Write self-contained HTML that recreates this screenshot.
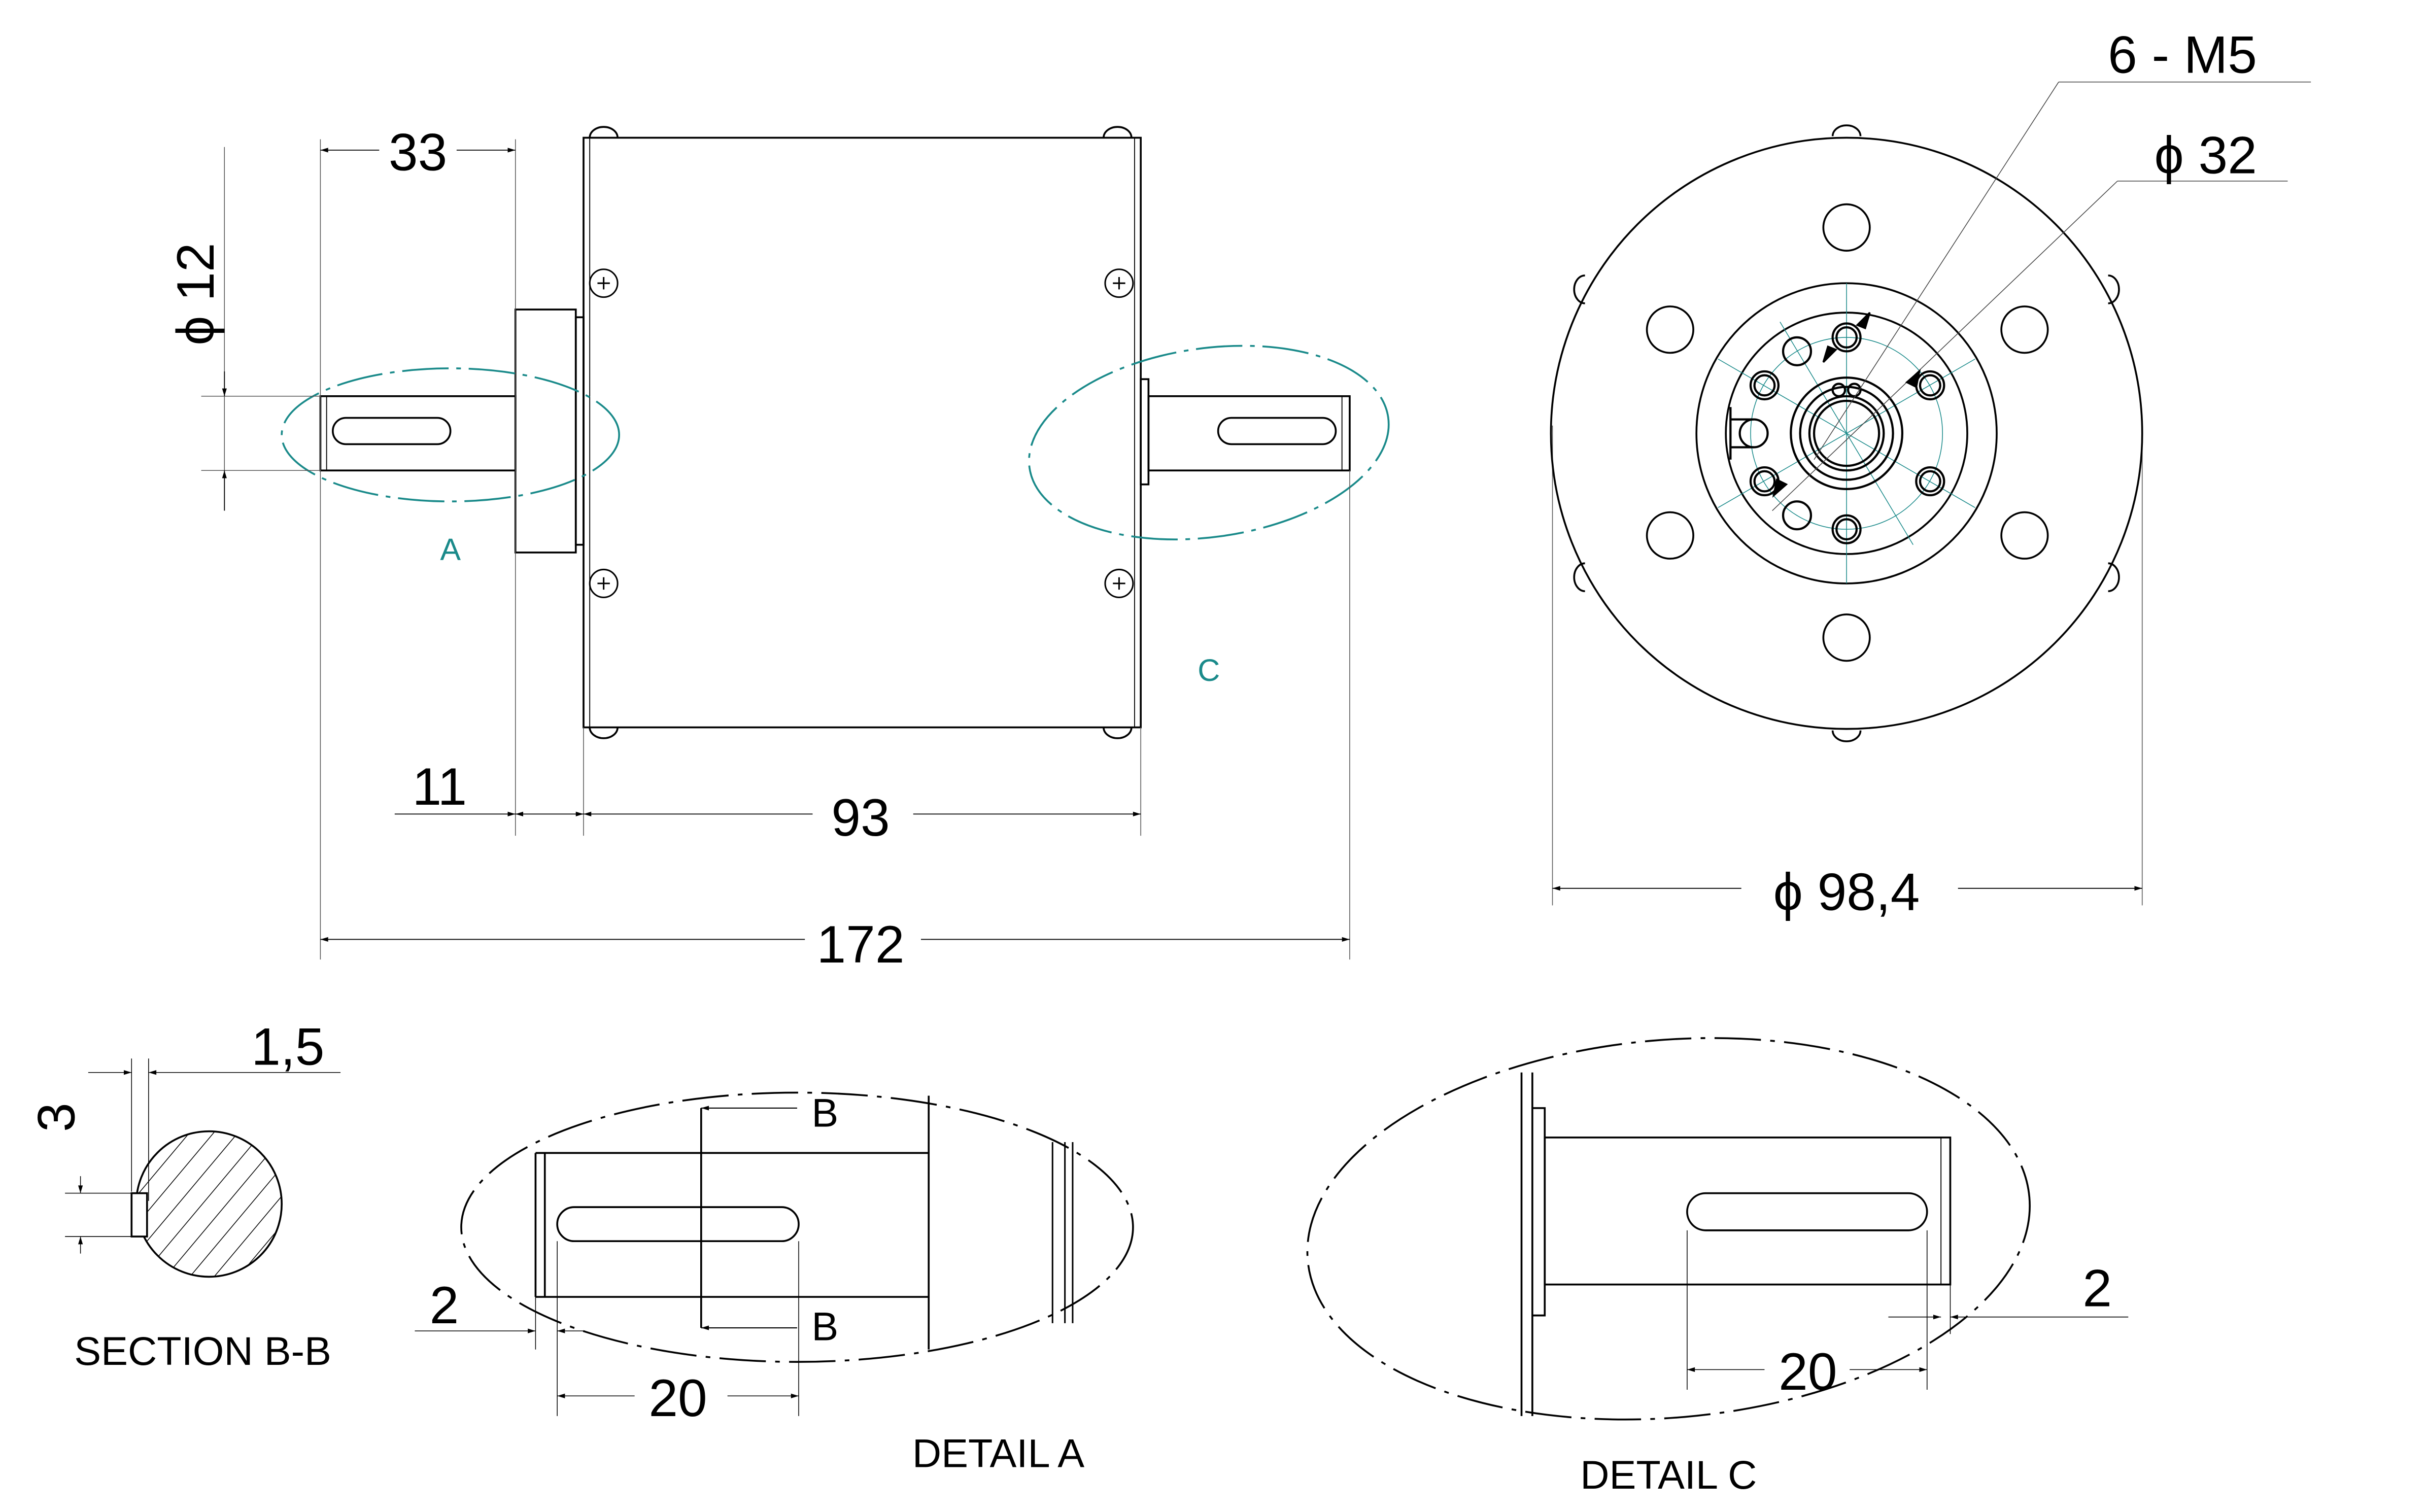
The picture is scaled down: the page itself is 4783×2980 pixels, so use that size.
<!DOCTYPE html>
<html><head><meta charset="utf-8"><style>
html,body{margin:0;padding:0;background:#fff;}
svg{display:block;}
text{font-family:"Liberation Sans",sans-serif;fill:#000;}
</style></head><body>
<svg width="4783" height="2980" viewBox="0 0 1568 977" preserveAspectRatio="none" xmlns="http://www.w3.org/2000/svg">
<defs>
<marker id="ar" viewBox="0 0 10 10" refX="10" refY="5" markerWidth="9" markerHeight="5" orient="auto-start-reverse" markerUnits="userSpaceOnUse"><path d="M0,2 L10,5 L0,8z" fill="#000"/></marker>
<pattern id="hatch" width="12" height="12" patternUnits="userSpaceOnUse" patternTransform="rotate(40)"><line x1="0" y1="0" x2="0" y2="12" stroke="#000" stroke-width="1"/></pattern>
</defs>
<g fill="none" stroke="#000" stroke-width="1.2">
<rect x="377" y="89" width="360" height="381"/>
<line x1="381" y1="89" x2="381" y2="470" stroke-width="0.6"/>
<line x1="733" y1="89" x2="733" y2="470" stroke-width="0.6"/>
<path d="M381,89 a9,7 0 0 1 18,0 M713,89 a9,7 0 0 1 18,0 M381,470 a9,7 0 0 0 18,0 M713,470 a9,7 0 0 0 18,0"/>
<rect x="333" y="200" width="39" height="157"/>
<rect x="372" y="205" width="5" height="147"/>
<rect x="207" y="256" width="126" height="48"/>
<line x1="211" y1="256" x2="211" y2="304" stroke-width="0.6"/>
<rect x="215" y="270" width="76" height="17" rx="8.5"/>
<rect x="737" y="245" width="5" height="68"/>
<rect x="742" y="256" width="130" height="48"/>
<line x1="867" y1="256" x2="867" y2="304" stroke-width="0.6"/>
<rect x="787" y="270" width="76" height="17" rx="8.5"/>
<g stroke-width="1">
<circle cx="390" cy="183" r="9"/><circle cx="723" cy="183" r="9"/><circle cx="390" cy="377" r="9"/><circle cx="723" cy="377" r="9"/>
<path d="M386,183h8M390,179v8M719,183h8M723,179v8M386,377h8M390,373v8M719,377h8M723,373v8"/>
</g>
<g stroke="#1a8a8a" stroke-dasharray="30 5 3 5">
<ellipse cx="291" cy="281" rx="109" ry="43"/>
<ellipse cx="781" cy="286" rx="117" ry="61" transform="rotate(-8 781 286)"/>
</g>
<g stroke-width="0.5" stroke="#555">
<line x1="207" y1="90" x2="207" y2="620"/>
<line x1="333" y1="90" x2="333" y2="540"/>
<line x1="377" y1="470" x2="377" y2="540"/>
<line x1="737" y1="470" x2="737" y2="540"/>
<line x1="872" y1="304" x2="872" y2="620"/>
<line x1="145" y1="95" x2="145" y2="330"/>
<line x1="130" y1="256" x2="207" y2="256"/>
<line x1="130" y1="304" x2="207" y2="304"/>
<line x1="1003" y1="275" x2="1003" y2="585"/>
<line x1="1384" y1="275" x2="1384" y2="585"/>
</g>
<g stroke-width="0.6">
<line x1="207" y1="97" x2="245" y2="97" marker-start="url(#ar)"/>
<line x1="295" y1="97" x2="333" y2="97" marker-end="url(#ar)"/>
<line x1="145" y1="240" x2="145" y2="256" marker-end="url(#ar)"/>
<line x1="145" y1="330" x2="145" y2="304" marker-end="url(#ar)"/>
<line x1="255" y1="526" x2="333" y2="526" marker-end="url(#ar)"/>
<line x1="333" y1="526" x2="377" y2="526" marker-end="url(#ar)" marker-start="url(#ar)"/>
<line x1="377" y1="526" x2="525" y2="526" marker-start="url(#ar)"/>
<line x1="590" y1="526" x2="737" y2="526" marker-end="url(#ar)"/>
<line x1="207" y1="607" x2="520" y2="607" marker-start="url(#ar)"/>
<line x1="595" y1="607" x2="872" y2="607" marker-end="url(#ar)"/>
<line x1="1003" y1="574" x2="1125" y2="574" marker-start="url(#ar)"/>
<line x1="1265" y1="574" x2="1384" y2="574" marker-end="url(#ar)"/>
</g>
<circle cx="1193" cy="280" r="191"/>
<circle cx="1193" cy="280" r="97"/>
<circle cx="1193" cy="280" r="78"/>
<path d="M1193,84 m-9,4 a9,7 0 0 1 18,0 M1184,472 a9,7 0 0 0 18,0"/>
<path d="M1024,178 a7,9 0 0 0 0,18 M1024,364 a7,9 0 0 0 0,18 M1362,178 a7,9 0 0 1 0,18 M1362,364 a7,9 0 0 1 0,18"/>
<circle cx="1193" cy="147" r="15"/><circle cx="1079" cy="213" r="15"/><circle cx="1308" cy="213" r="15"/>
<circle cx="1079" cy="346" r="15"/><circle cx="1308" cy="346" r="15"/><circle cx="1193" cy="412" r="15"/>
<g stroke="#1a8a8a" stroke-width="0.5">
<circle cx="1193" cy="280" r="62"/>
<line x1="1193" y1="183" x2="1193" y2="377"/>
<line x1="1110" y1="232" x2="1276" y2="328"/>
<line x1="1110" y1="328" x2="1276" y2="232"/>
<line x1="1150" y1="208" x2="1236" y2="352"/>
</g>
<g stroke-width="1.4">
<circle cx="1193" cy="218" r="9"/><circle cx="1193" cy="218" r="6.5"/>
<circle cx="1193" cy="342" r="9"/><circle cx="1193" cy="342" r="6.5"/>
<circle cx="1140" cy="249" r="9"/><circle cx="1140" cy="249" r="6.5"/>
<circle cx="1247" cy="249" r="9"/><circle cx="1247" cy="249" r="6.5"/>
<circle cx="1140" cy="311" r="9"/><circle cx="1140" cy="311" r="6.5"/>
<circle cx="1247" cy="311" r="9"/><circle cx="1247" cy="311" r="6.5"/>
<circle cx="1193" cy="280" r="36"/><circle cx="1193" cy="280" r="30"/>
<circle cx="1193" cy="280" r="24"/><circle cx="1193" cy="280" r="21"/>
<circle cx="1161" cy="227" r="9"/><circle cx="1161" cy="333" r="9"/><circle cx="1133" cy="280" r="9"/>
<path d="M1118,271 h15 M1118,289 h15 M1118,263 v34"/>
<circle cx="1188" cy="252" r="4"/><circle cx="1198" cy="252" r="4"/>
</g>
<g stroke-width="0.5" stroke="#444">
<line x1="1172" y1="297" x2="1330" y2="53"/><line x1="1330" y1="53" x2="1493" y2="53"/>
<line x1="1145" y1="330" x2="1368" y2="117"/><line x1="1368" y1="117" x2="1478" y2="117"/>
</g>
<path d="M1200,210 l8,-8 l-3,10z M1186,226 l-8,8 l3,-10z M1232,247 l8,-7 l-2,10z M1154,313 l-8,7 l2,-10z" fill="#000"/>
<circle cx="135" cy="778" r="47" fill="url(#hatch)"/>
<rect x="85" y="771" width="10" height="28" fill="#fff"/>
<g stroke-width="0.5">
<line x1="96" y1="684" x2="96" y2="776"/><line x1="85" y1="684" x2="85" y2="770"/>
<line x1="57" y1="693" x2="85" y2="693" marker-end="url(#ar)"/>
<line x1="96" y1="693" x2="220" y2="693" marker-start="url(#ar)"/>
<line x1="42" y1="771" x2="85" y2="771"/><line x1="42" y1="799" x2="85" y2="799"/>
<line x1="52" y1="760" x2="52" y2="771" marker-end="url(#ar)"/>
<line x1="52" y1="810" x2="52" y2="799" marker-end="url(#ar)"/>
</g>
<ellipse cx="515" cy="793" rx="217" ry="87" stroke-dasharray="30 6 3 6"/>
<path d="M346,745 h254 M346,838 h254 M346,745 v93 M352,745 v93"/>
<line x1="600" y1="708" x2="600" y2="872"/>
<path d="M680,738 v117 M688,738 v117 M693,738 v117" stroke-width="1"/>
<rect x="360" y="780" width="156" height="22" rx="11"/>
<line x1="453" y1="716" x2="453" y2="858"/>
<line x1="515" y1="716" x2="453" y2="716" marker-end="url(#ar)" stroke-width="0.7"/>
<line x1="515" y1="858" x2="453" y2="858" marker-end="url(#ar)" stroke-width="0.7"/>
<g stroke-width="0.5">
<line x1="360" y1="802" x2="360" y2="915"/><line x1="516" y1="802" x2="516" y2="915"/>
<line x1="346" y1="838" x2="346" y2="872"/>
<line x1="360" y1="902" x2="410" y2="902" marker-start="url(#ar)"/>
<line x1="470" y1="902" x2="516" y2="902" marker-end="url(#ar)"/>
<line x1="268" y1="860" x2="346" y2="860" marker-end="url(#ar)"/>
<line x1="378" y1="860" x2="360" y2="860" marker-end="url(#ar)"/>
</g>
<ellipse cx="1078" cy="794" rx="234" ry="122" stroke-dasharray="30 6 3 6" transform="rotate(-5 1078 794)"/>
<path d="M983,693 v222 M990,693 v222 M990,716 h8 v134 h-8"/>
<rect x="998" y="735" width="262" height="95"/>
<line x1="1254" y1="735" x2="1254" y2="830" stroke-width="0.6"/>
<rect x="1090" y="771" width="155" height="24" rx="12"/>
<g stroke-width="0.5">
<line x1="1090" y1="795" x2="1090" y2="898"/><line x1="1245" y1="795" x2="1245" y2="898"/>
<line x1="1260" y1="830" x2="1260" y2="862"/>
<line x1="1090" y1="885" x2="1140" y2="885" marker-start="url(#ar)"/>
<line x1="1195" y1="885" x2="1245" y2="885" marker-end="url(#ar)"/>
<line x1="1220" y1="851" x2="1254" y2="851" marker-end="url(#ar)"/>
<line x1="1375" y1="851" x2="1260" y2="851" marker-end="url(#ar)"/>
</g>
</g>
<g font-size="34">
<text x="270" y="110" text-anchor="middle">33</text>
<text x="138" y="190" text-anchor="middle" transform="rotate(-90 138 190)">ϕ 12</text>
<text x="284" y="520" text-anchor="middle">11</text>
<text x="556" y="540" text-anchor="middle">93</text>
<text x="556" y="622" text-anchor="middle">172</text>
<text x="1193" y="588" text-anchor="middle">ϕ 98,4</text>
<text x="1410" y="47" text-anchor="middle">6 - M5</text>
<text x="1425" y="112" text-anchor="middle">ϕ 32</text>
<text x="186" y="688" text-anchor="middle">1,5</text>
<text x="48" y="722" text-anchor="middle" transform="rotate(-90 48 722)">3</text>
<text x="287" y="855" text-anchor="middle">2</text>
<text x="438" y="915" text-anchor="middle">20</text>
<text x="1168" y="898" text-anchor="middle">20</text>
<text x="1355" y="844" text-anchor="middle">2</text>
</g>
<g font-size="26">
<text x="533" y="728" text-anchor="middle">B</text>
<text x="533" y="866" text-anchor="middle">B</text>
<text x="131" y="882" text-anchor="middle">SECTION B-B</text>
<text x="645" y="948" text-anchor="middle">DETAIL A</text>
<text x="1078" y="962" text-anchor="middle">DETAIL C</text>
</g>
<g font-size="20">
<text x="291" y="362" text-anchor="middle" style="fill:#1a8a8a">A</text>
<text x="781" y="440" text-anchor="middle" style="fill:#1a8a8a">C</text>
</g>
</svg>
</body></html>
